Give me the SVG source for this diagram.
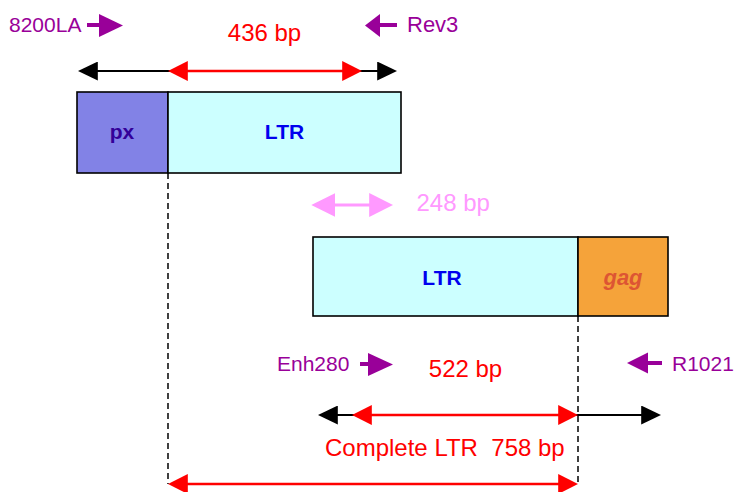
<svg xmlns="http://www.w3.org/2000/svg" width="737" height="492" viewBox="0 0 737 492">
<style>
  .box{stroke:#000;stroke-width:1.6}
  .lbl{font-family:"Liberation Sans",Arial,sans-serif}
  .primer{font-family:"Liberation Sans",Arial,sans-serif;font-size:21px;fill:#990099}
  .bp{font-family:"Liberation Sans",Arial,sans-serif;font-size:24px;fill:#ff0000}
  .pa{fill:#990099}
  .pl{stroke:#990099;stroke-width:4}
  .blk{stroke:#000;stroke-width:2;fill:none}
  .red{stroke:#ff0000;stroke-width:2.5;fill:none}
  .pink{stroke:#ff99ff;stroke-width:3;fill:none}
  .dash{stroke:#000;stroke-width:1.5;stroke-dasharray:6,4;fill:none}
</style>
<defs>
  <marker id="hb" markerUnits="userSpaceOnUse" markerWidth="20" markerHeight="19" refX="15" refY="9" orient="auto-start-reverse" viewBox="0 0 19 18">
    <path d="M0,0 L19,9 L0,18 z" fill="#000"/>
  </marker>
  <marker id="hr" markerUnits="userSpaceOnUse" markerWidth="20" markerHeight="20" refX="15" refY="9.5" orient="auto-start-reverse" viewBox="0 0 19 19">
    <path d="M0,0 L19,9.5 L0,19 z" fill="#ff0000"/>
  </marker>
  <marker id="hp" markerUnits="userSpaceOnUse" markerWidth="24" markerHeight="24" refX="18" refY="11.5" orient="auto-start-reverse" viewBox="0 0 23 23">
    <path d="M0,0 L23,11.5 L0,23 z" fill="#ff99ff"/>
  </marker>
</defs>

<g id="block1">
  <rect id="px" class="box" x="77" y="92" width="91" height="81" fill="#8282e6"/>
  <text class="lbl" x="122" y="139" font-size="21" font-weight="bold" fill="#330099" text-anchor="middle">px</text>
  <rect id="ltr1" class="box" x="168" y="92" width="233" height="81" fill="#ccffff"/>
  <text class="lbl" x="284.5" y="139" font-size="21" font-weight="bold" fill="#0000ee" text-anchor="middle">LTR</text>
</g>

<g id="block2">
  <rect id="ltr2" class="box" x="313" y="237" width="265" height="79" fill="#ccffff"/>
  <text class="lbl" x="442" y="284.5" font-size="21" font-weight="bold" fill="#0000ee" text-anchor="middle">LTR</text>
  <rect id="gag" class="box" x="578" y="237" width="90" height="79" fill="#f5a33a"/>
  <text class="lbl" x="623" y="284.5" font-size="22" font-weight="bold" font-style="italic" fill="#dd5533" text-anchor="middle">gag</text>
</g>

<g id="primers">
  <g id="p8200LA">
    <line class="pl" x1="87" y1="25" x2="100" y2="25"/>
    <polygon class="pa" points="99,14 123,25.5 99,37"/>
    <text class="primer" x="9" y="32">8200LA</text>
  </g>
  <g id="pRev3">
    <line class="pl" x1="379" y1="25" x2="397" y2="25"/>
    <polygon class="pa" points="380,14 365,25.5 380,37"/>
    <text class="primer" x="407" y="32" style="font-size:22px">Rev3</text>
  </g>
  <g id="pEnh280">
    <line class="pl" x1="360" y1="364" x2="369" y2="364"/>
    <polygon class="pa" points="368,353 393,364.5 368,376"/>
    <text class="primer" x="277" y="371">Enh280</text>
  </g>
  <g id="pR1021">
    <line class="pl" x1="647" y1="363" x2="662" y2="363"/>
    <polygon class="pa" points="648,352.5 627,363 648,373.5"/>
    <text class="primer" x="672" y="371">R1021</text>
  </g>
</g>

<g id="connectors">
  <line class="dash" x1="168" y1="173" x2="168" y2="484"/>
  <line class="dash" x1="578" y1="316" x2="578" y2="484"/>
  <line class="blk" x1="82" y1="71" x2="393" y2="71" marker-start="url(#hb)" marker-end="url(#hb)"/>
  <line class="red" x1="172" y1="71" x2="358" y2="71" marker-start="url(#hr)" marker-end="url(#hr)"/>
  <line class="pink" x1="316.5" y1="205" x2="388" y2="205" marker-start="url(#hp)" marker-end="url(#hp)"/>
  <line class="blk" x1="322" y1="415" x2="657" y2="415" marker-start="url(#hb)" marker-end="url(#hb)"/>
  <line class="red" x1="356" y1="415" x2="574" y2="415" marker-start="url(#hr)" marker-end="url(#hr)"/>
  <line class="red" x1="172" y1="484" x2="574" y2="484" marker-start="url(#hr)" marker-end="url(#hr)"/>
</g>

<g id="labels">
  <text class="bp" x="264.5" y="41" text-anchor="middle">436 bp</text>
  <text class="bp" x="416.5" y="211" style="fill:#ff99ff">248 bp</text>
  <text class="bp" x="465.5" y="377" text-anchor="middle">522 bp</text>
  <text class="bp" x="325" y="456" xml:space="preserve">Complete LTR  758 bp</text>
</g>
</svg>
